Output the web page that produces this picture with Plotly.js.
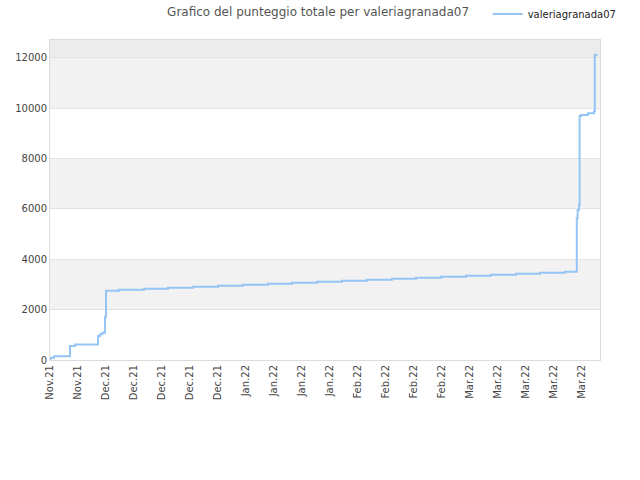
<!DOCTYPE html>
<html>
<head>
<meta charset="utf-8">
<script src="https://cdn.plot.ly/plotly-3.0.1.min.js"></script>
<style>
  body { margin: 0; background: #fff; }
  #myPlot { width: 640px; height: 480px; }
</style>
</head>
<body>
<div id="myPlot"></div>
<script>
// days since 17 Nov 2021 at which the score changed, and the score reached
let days = [0, 0.1, 1, 5, 6.25, 12, 12.5, 13.1, 13.75, 14,
  17.25, 23.5, 29.5, 35.75, 42, 48.25, 54.5, 60.5, 66.75, 73,
  79.25, 85.5, 91.5, 97.75, 104, 110.25, 116.5, 122.5, 128.75,
  131.7, 131.9, 132.25, 132.4, 132.8, 134.5, 136, 136.2, 136.7];
let score = [30, 90, 150, 560, 620, 950, 1020, 1085, 1720, 2750,
  2790, 2830, 2870, 2910, 2950, 2990, 3030, 3070, 3110, 3150,
  3190, 3230, 3270, 3310, 3350, 3390, 3430, 3470, 3510,
  5630, 5960, 6160, 9690, 9735, 9800, 9890, 12120, 12130];

// x axis labels, one every 7 days
let tickDays = [0, 7, 14, 21, 28, 35, 42, 49, 56, 63, 70, 77, 84, 91, 98, 105, 112, 119, 126, 133];
let tickLabels = ["Nov.21", "Nov.21", "Dec.21", "Dec.21", "Dec.21", "Dec.21", "Dec.21",
  "Jan.22", "Jan.22", "Jan.22", "Jan.22", "Feb.22", "Feb.22", "Feb.22", "Feb.22",
  "Mar.22", "Mar.22", "Mar.22", "Mar.22", "Mar.22"];

let yTicks = [0, 2000, 4000, 6000, 8000, 10000, 12000];

// grey bands behind the plot
let shapes = [];
for (let i = 1; i < yTicks.length - 1; i += 2) {
  shapes.push({
    type: 'rect', xref: 'paper', yref: 'y', layer: 'below',
    x0: 0, x1: 1, y0: yTicks[i], y1: yTicks[i + 1],
    fillcolor: '#f2f2f2', line: { width: 0 }
  });
}
shapes.push({
  type: 'rect', xref: 'paper', yref: 'paper', layer: 'below',
  x0: 0, x1: 1, y0: 12000 / 12710, y1: 1,
  fillcolor: '#ececec', line: { width: 0 }
});

var trace1 = {
  x: days,
  y: score,
  name: 'valeriagranada07',
  type: 'scatter',
  mode: 'lines',
  line: { color: '#94c5f5', width: 2, shape: 'hv' }
};

var layout = {
  width: 640,
  height: 480,
  margin: { l: 50, r: 40, t: 40, b: 120, autoexpand: false },
  paper_bgcolor: '#ffffff',
  plot_bgcolor: '#ffffff',
  font: { family: 'DejaVu Sans, sans-serif', size: 10, color: '#444' },
  title: {
    text: 'Grafico del punteggio totale per valeriagranada07',
    font: { family: 'DejaVu Sans, sans-serif', size: 12, color: '#555' },
    x: 0.497, xanchor: 'center', y: 0.975, yanchor: 'middle'
  },
  showlegend: true,
  legend: {
    xref: 'container', yref: 'container',
    x: 0.762, xanchor: 'left', y: 0.971, yanchor: 'middle',
    itemwidth: 30,
    font: { family: 'DejaVu Sans, sans-serif', size: 10, color: '#222' },
    bgcolor: 'rgba(0,0,0,0)'
  },
  xaxis: {
    range: [0, 137.5],
    tickmode: 'array',
    tickvals: tickDays,
    ticktext: tickLabels,
    tickangle: -90,
    showgrid: false,
    zeroline: false,
    showline: true,
    mirror: true,
    linecolor: '#dcdcdc',
    linewidth: 1,
    ticks: '',
    tickfont: { size: 10, color: '#444' }
  },
  yaxis: {
    range: [0, 12710],
    tickmode: 'array',
    tickvals: yTicks,
    tickformat: 'd',
    showgrid: true,
    gridcolor: '#e3e3e3',
    zeroline: false,
    showline: true,
    mirror: true,
    linecolor: '#dcdcdc',
    linewidth: 1,
    ticks: '',
    tickfont: { size: 10, color: '#444' }
  },
  shapes: shapes
};

Plotly.newPlot("myPlot", [trace1], layout, { displayModeBar: false, staticPlot: true });
</script>
</body>
</html>
